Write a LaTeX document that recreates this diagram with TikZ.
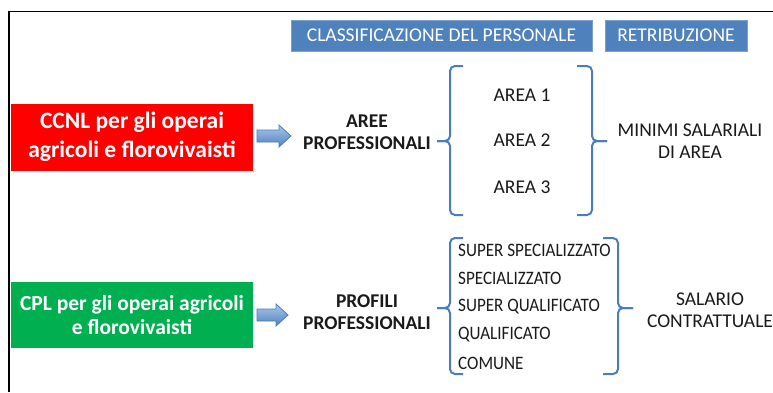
\documentclass[tikz,border=0pt]{standalone}
\usepackage{fontspec}
\setmainfont{Carlito}
\newfontfamily\condfont[FakeStretch=0.9]{Carlito}
\definecolor{hdrblue}{HTML}{4F81BD}
\definecolor{braceblue}{HTML}{4A7EBB}
\definecolor{arrowtop}{HTML}{A9C8EC}
\definecolor{arrowbot}{HTML}{4F81BD}
\definecolor{arrowline}{HTML}{4A7EBB}
\definecolor{txt}{HTML}{1A1A1A}
\definecolor{boxred}{HTML}{FF0000}
\definecolor{boxgreen}{HTML}{00B050}
\begin{document}
\begin{tikzpicture}[x=1pt,y=-1pt,
  hdr/.style={fill=hdrblue, draw=hdrblue!75!white, line width=0.8pt, text=white,
    font=\fontsize{19.5}{23}\selectfont, inner sep=0pt, minimum height=31pt},
  src/.style={text=white, align=center, inner sep=0pt,
    minimum width=242pt, minimum height=67pt},
  lbl/.style={font=\fontsize{19.5}{22.5}\selectfont, text=txt, align=center, inner sep=0pt},
  blbl/.style={font=\bfseries\fontsize{19.5}{22.5}\selectfont, text=txt, align=center, inner sep=0pt},
  itemtxt/.style={font=\condfont\fontsize{19}{22}\selectfont, text=txt, anchor=west, inner sep=0pt},
  bracepath/.style={draw=braceblue, line width=2pt, rounded corners=5pt},
  blockarrow/.style={draw=arrowline, line width=0.8pt, top color=arrowtop, bottom color=arrowbot}]
\useasboundingbox (0,0) rectangle (773,392);
\fill[white] (0,0) rectangle (773,392);
% frame
\draw[line width=1.5pt] (9,392) -- (9,11.5) -- (773,11.5);

% headers
\node[hdr, minimum width=301pt] (hdrA) at (441.5,35.5) {CLASSIFICAZIONE DEL PERSONALE};
\node[hdr, minimum width=142pt] (hdrB) at (676,35.5) {RETRIBUZIONE};

% source boxes
\node[src, fill=boxred, font=\bfseries\fontsize{23.5}{29}\selectfont] (ccnl) at (132,137)
  {CCNL per gli operai\\agricoli e florovivaisti};
\node[src, fill=boxgreen, minimum height=66pt, font=\bfseries\fontsize{21.5}{24.5}\selectfont] (cpl) at (132,315)
  {CPL per gli operai agricoli\\e florovivaisti};

% block arrows
\draw[blockarrow] (257,130) -- (279,130) -- (279,125) -- (291,136) -- (279,147) -- (279,142) -- (257,142) -- cycle;
\draw[blockarrow] (257,309) -- (276,309) -- (276,304) -- (288,315) -- (276,326) -- (276,321) -- (257,321) -- cycle;

% row 1
\node[blbl] (aree) at (367,132) {AREE\\PROFESSIONALI};
\draw[bracepath] (463,66) -- (450,66) -- (450,141) -- (437,141);
\draw[bracepath] (437,141) -- (450,141) -- (450,215) -- (463,215);
\node[lbl] (area1) at (522,95) {AREA 1};
\node[lbl] (area2) at (522,140) {AREA 2};
\node[lbl] (area3) at (522,187) {AREA 3};
\draw[bracepath] (577,66) -- (592,66) -- (592,141) -- (607,141);
\draw[bracepath] (607,141) -- (592,141) -- (592,215) -- (577,215);
\node[lbl] (minimi) at (690,141) {MINIMI SALARIALI\\DI AREA};

% row 2
\node[blbl] (profili) at (367,312) {PROFILI\\PROFESSIONALI};
\draw[bracepath] (463,238) -- (450,238) -- (450,308) -- (437,308);
\draw[bracepath] (437,308) -- (450,308) -- (450,374) -- (463,374);
\node[itemtxt] (it1) at (458,250) {SUPER SPECIALIZZATO};
\node[itemtxt] (it2) at (458,278) {SPECIALIZZATO};
\node[itemtxt] (it3) at (458,307) {SUPER QUALIFICATO};
\node[itemtxt] (it4) at (458,335) {QUALIFICATO};
\node[itemtxt] (it5) at (458,363) {COMUNE};
\draw[bracepath] (603,238) -- (618,238) -- (618,308) -- (633,308);
\draw[bracepath] (633,308) -- (618,308) -- (618,374) -- (603,374);
\node[lbl] (salario) at (710,310) {SALARIO\\CONTRATTUALE};
\end{tikzpicture}
\end{document}
